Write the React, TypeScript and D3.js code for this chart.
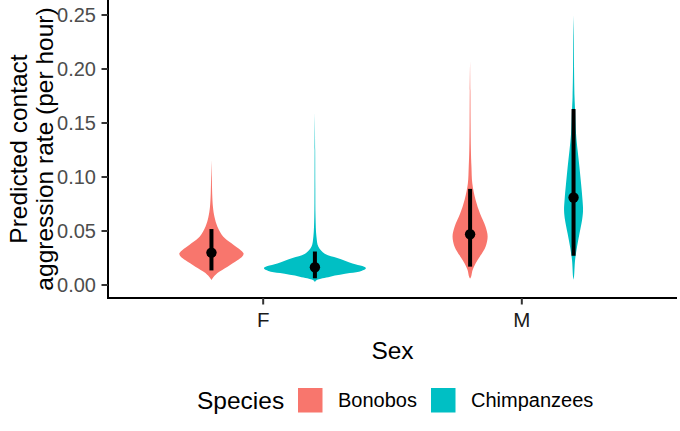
import React from "react";
import * as d3 from "d3";

// Sex categories on the x axis, species as dodged groups
const sexes = ["F", "M"];
const species = ["Bonobos", "Chimpanzees"];
const speciesColors = ["#F8766D", "#00BFC4"];

// Posterior density profiles: [rate per hour, density]
const fBonoboDensity: [number, number][] = [
  [0.0045, 0], [0.006, 1.1], [0.011, 6.7], [0.017, 18], [0.023, 29], [0.026, 34],
  [0.029, 36], [0.032, 33], [0.039, 22], [0.045, 13], [0.054, 6.7], [0.063, 3.4],
  [0.072, 1.7], [0.085, 0.8], [0.1, 0.4], [0.116, 0],
];
const fChimpDensity: [number, number][] = [
  [0.0028, 0], [0.0046, 2.2], [0.0077, 17], [0.011, 39], [0.013, 52], [0.0155, 57],
  [0.0175, 53], [0.02, 42], [0.025, 25], [0.029, 11], [0.0355, 3.9], [0.045, 1.7],
  [0.063, 0.7], [0.09, 0.45], [0.125, 0.3], [0.16, 0],
];
const mBonoboDensity: [number, number][] = [
  [0.006, 0], [0.0077, 1.1], [0.014, 2.8], [0.02, 6.1], [0.026, 10.6], [0.0355, 17.3],
  [0.045, 19.6], [0.054, 17.3], [0.066, 11.2], [0.079, 6.1], [0.094, 2.5], [0.11, 1.5],
  [0.125, 0.9], [0.15, 0.55], [0.18, 0.35], [0.207, 0],
];
const mChimpDensity: [number, number][] = [
  [0.005, 0], [0.0077, 0.55], [0.023, 1.7], [0.0355, 3.9], [0.048, 6.7], [0.06, 9.5],
  [0.069, 10.6], [0.079, 10], [0.094, 8.4], [0.11, 6.5], [0.125, 4.5], [0.14, 2.8],
  [0.162, 1.7], [0.174, 1.1], [0.202, 0.55], [0.23, 0.35], [0.25, 0],
];

// Posterior median with 95% interval: [low, median, high]
const fBonoboInterval = [0.0135, 0.03, 0.0518];
const fChimpInterval = [0.0062, 0.0164, 0.031];
const mBonoboInterval = [0.017, 0.047, 0.089];
const mChimpInterval = [0.027, 0.081, 0.163];

const yTicks = [0, 0.05, 0.1, 0.15, 0.2, 0.25];

const groups = [
  { sex: "F", sp: 0, density: fBonoboDensity, interval: fBonoboInterval },
  { sex: "F", sp: 1, density: fChimpDensity, interval: fChimpInterval },
  { sex: "M", sp: 0, density: mBonoboDensity, interval: mBonoboInterval },
  { sex: "M", sp: 1, density: mChimpDensity, interval: mChimpInterval },
];

const W = 680;
const H = 431;
const panel = { left: 108, right: 677, top: 0, bottom: 298 };
const FONT = "Liberation Sans, Arial, Helvetica, sans-serif";

export default function App() {
  const x = d3
    .scalePoint<string>()
    .domain(sexes)
    .range([panel.left, panel.right])
    .padding(0.6);
  const step = x.step();
  const dodge = step * 0.2;

  const y = d3.scaleLinear().domain([0, 0.25]).range([285, 15]);
  const maxDensity = d3.max(groups, (g) => d3.max(g.density, (d) => d[1])) as number;
  const w = d3.scaleLinear().domain([0, maxDensity]).range([0, 51]);

  const violin = (cx: number) =>
    d3
      .area<[number, number]>()
      .y((d) => y(d[0]))
      .x0((d) => cx - w(d[1]))
      .x1((d) => cx + w(d[1]))
      .curve(d3.curveCatmullRom.alpha(0.5));

  const legendY = 400;

  return (
    <svg width={W} height={H} style={{ display: "block", position: "absolute", left: 0, top: 0 }} fontFamily={FONT}>
      <rect width={W} height={H} fill="#ffffff" />
      {groups.map((g, i) => {
        const cx = (x(g.sex) as number) + (g.sp === 0 ? -dodge : dodge);
        return (
          <g key={i}>
            <path d={violin(cx)(g.density) || ""} fill={speciesColors[g.sp]} />
            <line
              x1={cx}
              x2={cx}
              y1={y(g.interval[0])}
              y2={y(g.interval[2])}
              stroke="#000"
              strokeWidth={4}
            />
            <circle cx={cx} cy={y(g.interval[1])} r={5.2} fill="#000" />
          </g>
        );
      })}

      {/* axes */}
      <line x1={panel.left} x2={panel.left} y1={panel.top} y2={panel.bottom} stroke="#000" strokeWidth={2} />
      <line x1={panel.left - 1} x2={panel.right} y1={panel.bottom} y2={panel.bottom} stroke="#000" strokeWidth={2} />
      {yTicks.map((t) => (
        <g key={t}>
          <line x1={panel.left - 6.5} x2={panel.left} y1={y(t)} y2={y(t)} stroke="#333" strokeWidth={2} />
          <text x={96} y={y(t)} dy="0.36em" textAnchor="end" fontSize={20} fill="#4D4D4D">
            {d3.format(".2f")(t)}
          </text>
        </g>
      ))}
      {sexes.map((s) => (
        <g key={s}>
          <line x1={x(s)} x2={x(s)} y1={panel.bottom} y2={panel.bottom + 6.5} stroke="#333" strokeWidth={2} />
          <text x={x(s)} y={327} textAnchor="middle" fontSize={20.5} fill="#1a1a1a">
            {s}
          </text>
        </g>
      ))}
      <text x={(panel.left + panel.right) / 2} y={359} textAnchor="middle" fontSize={24.5} fill="#000">
        Sex
      </text>
      <text transform={`translate(27,149) rotate(-90)`} textAnchor="middle" fontSize={24.5} fill="#000">
        Predicted contact
      </text>
      <text transform={`translate(53,149) rotate(-90)`} textAnchor="middle" fontSize={24.5} fill="#000">
        aggression rate (per hour)
      </text>

      {/* legend */}
      <text x={197} y={legendY} dy="0.36em" fontSize={24.5} fill="#000">
        Species
      </text>
      {species.map((sp, i) => {
        const kx = i === 0 ? 298 : 431;
        return (
          <g key={sp}>
            <rect x={kx} y={legendY - 12} width={24.5} height={24.5} fill={speciesColors[i]} />
            <text x={kx + 40} y={legendY} dy="0.36em" fontSize={20} fill="#000">
              {sp}
            </text>
          </g>
        );
      })}
    </svg>
  );
}
